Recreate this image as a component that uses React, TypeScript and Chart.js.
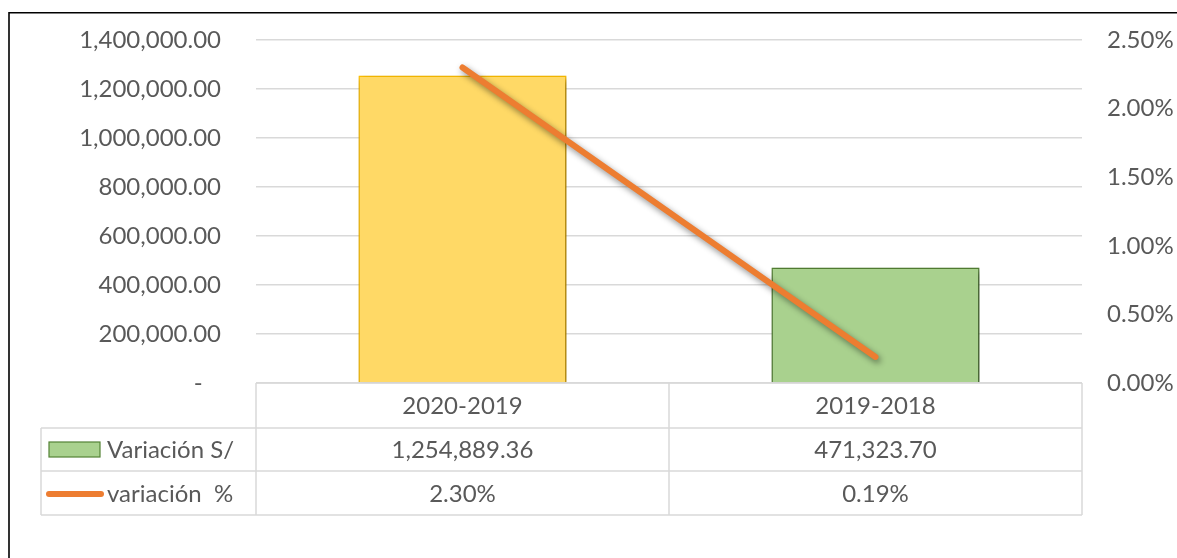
import React, { useEffect, useRef } from "react";
import { Chart, registerables } from "chart.js";

Chart.register(...registerables);

const categories = ["2020-2019", "2019-2018"];
const variacionSoles = [1254889.36, 471323.7];
const variacionPct = [2.3, 0.19];
const seriesNames = ["Variación S/", "variación  %"];
const leftTicks = { min: 0, max: 1400000, step: 200000 };
const rightTicks = { min: 0, max: 2.5, step: 0.5 };

const FONT = "Lato";
const FSIZE = 24;
const TEXT = "#595959";
const GRID = "#D9D9D9";

function fmtNum(v: number): string {
  const fixed = Math.abs(v).toFixed(2);
  const [ip, dp] = fixed.split(".");
  const withCommas = ip.replace(/\B(?=(\d{3})+(?!\d))/g, ",");
  return (v < 0 ? "-" : "") + withCommas + "." + dp;
}
function fmtPct(v: number): string {
  return v.toFixed(2) + "%";
}

const shadowPlugin = {
  id: "shadow",
  beforeDatasetDraw(chart: any) {
    const ctx = chart.ctx;
    ctx.save();
    ctx.shadowColor = "rgba(0,0,0,0.45)";
    ctx.shadowBlur = 6;
    ctx.shadowOffsetX = 2;
    ctx.shadowOffsetY = 3;
  },
  afterDatasetDraw(chart: any) {
    chart.ctx.restore();
  },
};

const tablePlugin = {
  id: "dataTable",
  afterDraw(chart: any) {
    const ctx = chart.ctx;
    const area = chart.chartArea;
    const x = chart.scales.x;
    const left = area.left;
    const right = area.right;
    const mid = (x.getPixelForValue(0) + x.getPixelForValue(1)) / 2;
    const top = area.bottom;
    const rows = [top, top + 45, top + 88, top + 132];
    const tableLeft = 41;

    ctx.save();
    // frame
    ctx.strokeStyle = "#000";
    ctx.lineWidth = 1.6;
    ctx.beginPath();
    ctx.moveTo(9, 558);
    ctx.lineTo(9, 12.8);
    ctx.lineTo(1177, 12.8);
    ctx.stroke();

    // grid of the table
    ctx.strokeStyle = GRID;
    ctx.lineWidth = 1.5;
    ctx.beginPath();
    ctx.moveTo(left, rows[0]);
    ctx.lineTo(right, rows[0]);
    for (let i = 1; i < rows.length; i++) {
      ctx.moveTo(tableLeft, rows[i]);
      ctx.lineTo(right, rows[i]);
    }
    for (const vx of [left, mid, right]) {
      ctx.moveTo(vx, rows[0]);
      ctx.lineTo(vx, rows[3]);
    }
    ctx.moveTo(tableLeft, rows[1]);
    ctx.lineTo(tableLeft, rows[3]);
    ctx.stroke();

    ctx.fillStyle = TEXT;
    ctx.font = `${FSIZE}px ${FONT}`;
    ctx.textAlign = "center";
    ctx.textBaseline = "middle";
    categories.forEach((c, i) => {
      const cx = x.getPixelForValue(i);
      ctx.fillText(c, cx, (rows[0] + rows[1]) / 2 + 1);
      ctx.fillText(fmtNum(variacionSoles[i]), cx, (rows[1] + rows[2]) / 2 + 1);
      ctx.fillText(fmtPct(variacionPct[i]), cx, (rows[2] + rows[3]) / 2 + 1);
    });

    // legend keys
    const r2 = (rows[1] + rows[2]) / 2;
    const r3 = (rows[2] + rows[3]) / 2;
    ctx.fillStyle = "#A9D18E";
    ctx.fillRect(49, r2 - 7.5, 51, 15);
    ctx.strokeStyle = "#548235";
    ctx.lineWidth = 1.2;
    ctx.strokeRect(49, r2 - 7.5, 51, 15);

    ctx.strokeStyle = "#ED7D31";
    ctx.lineWidth = 6;
    ctx.lineCap = "round";
    ctx.beginPath();
    ctx.moveTo(49, r3 + 1);
    ctx.lineTo(101, r3 + 1);
    ctx.stroke();

    ctx.fillStyle = TEXT;
    ctx.textAlign = "left";
    ctx.fillText(seriesNames[0], 107, r2 + 1);
    ctx.fillText(seriesNames[1], 107, r3 + 1);
    ctx.restore();
  },
};

export default function App() {
  const ref = useRef<HTMLCanvasElement | null>(null);

  useEffect(() => {
    if (!ref.current) return;
    const chart = new Chart(ref.current, {
      type: "bar",
      data: {
        labels: categories,
        datasets: [
          {
            type: "line",
            label: seriesNames[1],
            data: variacionPct,
            yAxisID: "y1",
            borderColor: "#ED7D31",
            backgroundColor: "#ED7D31",
            borderWidth: 6,
            borderCapStyle: "round",
            pointRadius: 0,
            order: 0,
          } as any,
          {
            type: "bar",
            label: seriesNames[0],
            data: variacionSoles,
            yAxisID: "y",
            backgroundColor: ["#FFD966", "#A9D18E"],
            borderColor: ["#FFC000", "#548235"],
            borderWidth: 1.5,
            categoryPercentage: 1,
            barPercentage: 0.504,
            order: 1,
          },
        ],
      },
      options: {
        responsive: false,
        animation: false,
        devicePixelRatio: 1,
        layout: { padding: { left: 0, right: 0, top: 40, bottom: 175 } },
        plugins: { legend: { display: false }, tooltip: { enabled: false } },
        scales: {
          x: { display: false },
          y: {
            position: "left",
            min: leftTicks.min,
            max: leftTicks.max,
            afterFit: (s: any) => {
              s.width = 256;
            },
            ticks: {
              stepSize: leftTicks.step,
              padding: 5,
              color: TEXT,
              font: { family: FONT, size: FSIZE },
              callback: (v: any) => (Number(v) === 0 ? "-   " : fmtNum(Number(v))),
            },
            grid: {
              color: GRID,
              lineWidth: 1.5,
              drawTicks: true,
              tickLength: 30,
              tickColor: "rgba(0,0,0,0)",
            },
            border: { display: false },
          },
          y1: {
            position: "right",
            min: rightTicks.min,
            max: rightTicks.max,
            afterFit: (s: any) => {
              s.width = 95;
            },
            ticks: {
              stepSize: rightTicks.step,
              padding: 25,
              color: TEXT,
              font: { family: FONT, size: FSIZE },
              callback: (v: any) => fmtPct(Number(v)),
            },
            grid: { display: false, drawTicks: false },
            border: { display: false },
          },
        },
      },
      plugins: [shadowPlugin, tablePlugin],
    });
    return () => chart.destroy();
  }, []);

  return (
    <div style={{ position: "absolute", left: 0, top: 0, width: 1177, height: 558, background: "#fff" }}>
      <canvas ref={ref} width={1177} height={558} style={{ display: "block" }} />
    </div>
  );
}
